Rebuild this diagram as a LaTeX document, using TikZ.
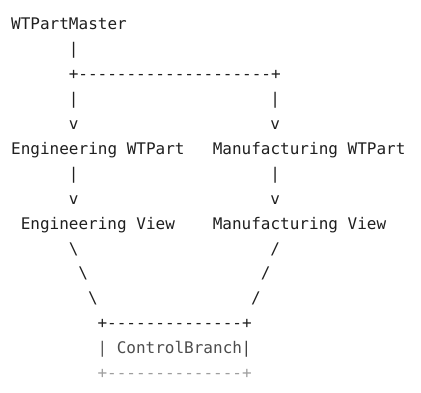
\documentclass[tikz,border=0pt]{standalone}
\usepackage{fontspec}
\setmonofont{DejaVu Sans Mono}
\tikzset{
  ascii/.style={anchor=base west, inner sep=0pt, text=black!88,
    font=\ttfamily\fontsize{16}{16}\selectfont},
}

\begin{document}
\begin{tikzpicture}[x=9.6pt, y=-24.9pt, every node/.style={ascii}]
\useasboundingbox (-11pt,30pt) rectangle (410pt,-363pt);
\node (master) at (0,0) {WTPartMaster};
\node (m1) at (6,1) {|};
\node (split) at (6,2) {+--------------------+};
\node (l1) at (6,3) {|};
\node (r1) at (27,3) {|};
\node (l2) at (6,4) {v};
\node (r2) at (27,4) {v};
\node (engpart) at (0,5) {Engineering WTPart};
\node (mfgpart) at (21,5) {Manufacturing WTPart};
\node (l3) at (6,6) {|};
\node (r3) at (27,6) {|};
\node (l4) at (6,7) {v};
\node (r4) at (27,7) {v};
\node (engview) at (1,8) {Engineering View};
\node (mfgview) at (21,8) {Manufacturing View};
\node (l5) at (6,9) {\textbackslash};
\node (r5) at (27,9) {/};
\node (l6) at (7,10) {\textbackslash};
\node (r6) at (26,10) {/};
\node (l7) at (8,11) {\textbackslash};
\node (r7) at (25,11) {/};
\node (boxtop) at (9,12) {+--------------+};
\node[text=black!65] (boxl) at (9,13) {|};
\node[text=black!70] (branch) at (11,13) {ControlBranch};
\node[text=black!75] (boxr) at (24,13) {|};
\node[text=black!38] (boxbot) at (9,14) {+--------------+};
\end{tikzpicture}
\end{document}
